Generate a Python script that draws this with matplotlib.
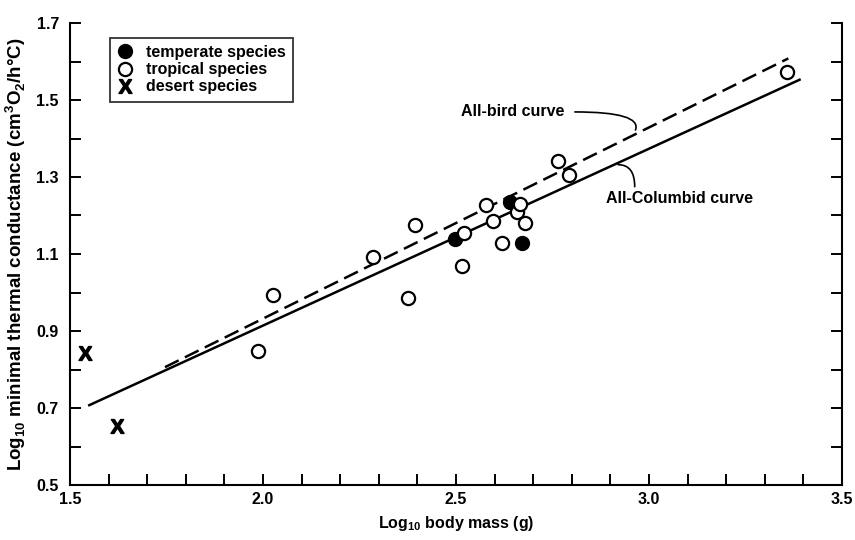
import numpy as np
import matplotlib
matplotlib.use("Agg")
import matplotlib.pyplot as plt
from matplotlib.ticker import MultipleLocator

plt.rcParams['font.family'] = ['Liberation Sans', 'DejaVu Sans']
plt.rcParams['font.weight'] = 'bold'
plt.rcParams['mathtext.fontset'] = 'custom'
plt.rcParams['mathtext.rm'] = 'Liberation Sans:bold'
plt.rcParams['mathtext.bf'] = 'Liberation Sans:bold'
plt.rcParams['lines.scale_dashes'] = False

# data (log10 body mass, log10 conductance)
temperate_x = [2.497, 2.640, 2.672]
temperate_y = [1.138, 1.236, 1.129]

tropical_x = [1.988, 2.027, 2.286, 2.376, 2.394, 2.515, 2.522, 2.578,
              2.597, 2.618, 2.657, 2.666, 2.679, 2.765, 2.793, 3.357]
tropical_y = [0.849, 0.994, 1.091, 0.985, 1.175, 1.070, 1.154, 1.227,
              1.187, 1.129, 1.210, 1.229, 1.180, 1.342, 1.305, 1.574]

desert_x = [1.539, 1.623]
desert_y = [0.844, 0.653]

columbid_x = [1.547, 3.393]
columbid_y = [0.706, 1.554]
allbird_x = [1.746, 3.361]
allbird_y = [0.806, 1.608]

x_ticks = [1.5, 2.0, 2.5, 3.0, 3.5]
y_ticks = [0.5, 0.7, 0.9, 1.1, 1.3, 1.5, 1.7]

fig = plt.figure(figsize=(8.55, 5.4), dpi=100)
ax = fig.add_axes([70 / 855, 1 - 485 / 540, 772 / 855, 462 / 540])

ax.plot(columbid_x, columbid_y, color='black', lw=1.8, solid_capstyle='butt')
ax.plot(allbird_x, allbird_y, color='black', lw=1.8, dashes=(11, 5))

ax.plot(temperate_x, temperate_y, 'o', ls='none', ms=9.5, mfc='black', mec='black',
        mew=1.5, label='temperate species')
ax.plot(tropical_x, tropical_y, 'o', ls='none', ms=9.5, mfc='white', mec='black',
        mew=1.6, label='tropical species')
ax.plot(desert_x, desert_y, marker=r'$\mathbf{X}$', ls='none', ms=10, color='black',
        label='desert species')

ax.set_xlim(1.5, 3.5)
ax.set_ylim(0.5, 1.7)
ax.set_xticks(x_ticks)
ax.set_yticks(y_ticks)
ax.set_xticklabels([f'{v:.1f}' for v in x_ticks])
ax.set_yticklabels([f'{v:.1f}' for v in y_ticks])
ax.xaxis.set_minor_locator(MultipleLocator(0.1))
ax.yaxis.set_minor_locator(MultipleLocator(0.1))
ax.tick_params(which='both', direction='in', length=8, width=1.4, labelsize=11.5,
               right=True, top=False)
ax.tick_params(axis='x', pad=5)
ax.tick_params(axis='y', pad=8)
for lab in ax.get_xticklabels() + ax.get_yticklabels():
    lab.set_fontweight('bold')

ax.spines['top'].set_visible(False)
for s in ['left', 'bottom', 'right']:
    ax.spines[s].set_linewidth(1.5)

ax.set_xlabel(r'Log$_{10}$ body mass (g)', fontsize=11.5, fontweight='bold', labelpad=5)
ax.set_ylabel(r'Log$_{10}$ minimal thermal conductance (cm$^3$O$_2$/h°C)',
              fontsize=13.5, fontweight='bold', labelpad=6)

leg = ax.legend(loc='upper left', bbox_to_anchor=(0.052, 0.968), borderaxespad=0,
                fancybox=False, frameon=True, edgecolor='black',
                handlelength=1.0, handletextpad=0.8, labelspacing=0.14,
                borderpad=0.45, prop={'weight': 'bold', 'size': 11.5})
leg.get_frame().set_linewidth(1.3)

# curve labels with curved leader lines
ax.text(2.782, 1.469, 'All-bird curve', ha='right', va='center', fontsize=11.5,
        fontweight='bold')
ax.annotate('', xy=(2.965, 1.422), xytext=(2.808, 1.469),
            arrowprops=dict(arrowstyle='-', lw=1.2, color='black', shrinkA=0, shrinkB=0,
                            connectionstyle='angle3,angleA=0,angleB=70'))
ax.text(2.889, 1.245, 'All-Columbid curve', ha='left', va='center', fontsize=11.5,
        fontweight='bold')
ax.annotate('', xy=(2.963, 1.275), xytext=(2.920, 1.332),
            arrowprops=dict(arrowstyle='-', lw=1.2, color='black', shrinkA=0, shrinkB=0,
                            connectionstyle='angle3,angleA=0,angleB=90'))

fig.savefig('out.png', dpi=100)
